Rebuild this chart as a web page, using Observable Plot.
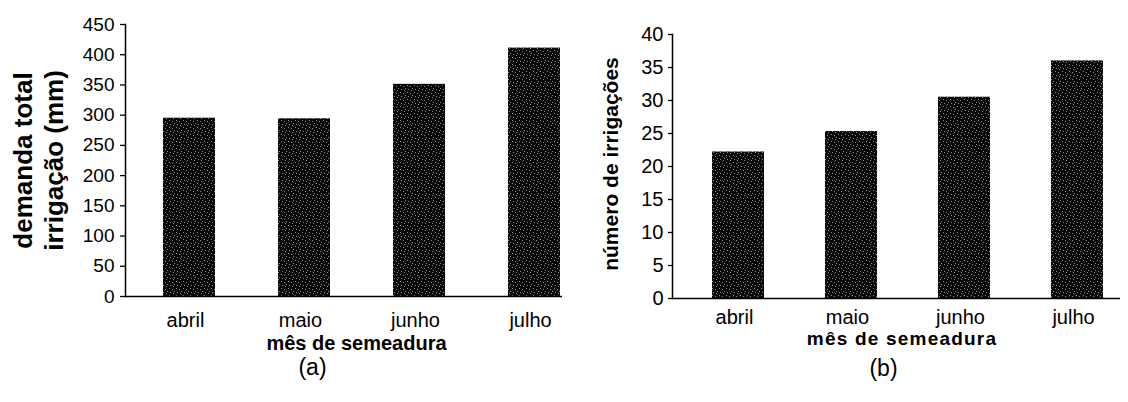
<!DOCTYPE html>
<html>
<head>
<meta charset="utf-8">
<script src="https://cdn.jsdelivr.net/npm/d3@7"></script>
<script src="https://cdn.jsdelivr.net/npm/@observablehq/plot@0.6"></script>
<style>
  html, body { margin: 0; padding: 0; background: #fff; }
  #wrap { position: relative; width: 1128px; height: 402px; overflow: hidden; background: #fff; }
  .panel { position: absolute; top: 0; width: 564px; height: 402px; overflow: hidden; }
  .panel svg { overflow: hidden; }
</style>
</head>
<body>
<div id="wrap">
  <div class="panel" id="pa" style="left:0"></div>
  <div class="panel" id="pb" style="left:564px"></div>
</div>
<script>
// ---- data ----
const months = ["abril", "maio", "junho", "julho"];
const demandaTotal = [295, 294, 351, 411];      // mm
const numeroIrrigacoes = [22.2, 25.3, 30.5, 36.0];
const yTicksA = [0, 50, 100, 150, 200, 250, 300, 350, 400, 450];
const yTicksB = [0, 5, 10, 15, 20, 25, 30, 35, 40];
const yTitleA = "demanda total\nirrigação (mm)";
const yTitleB = "número de irrigações";
const xTitle = "mês de semeadura";
const panelA = "(a)";
const panelB = "(b)";

const dataA = months.map((m, i) => ({m, v: demandaTotal[i]}));
const dataB = months.map((m, i) => ({m, v: numeroIrrigacoes[i]}));

const font = "'Liberation Sans', Arial, Helvetica, sans-serif";

function addPattern(svg, id) {
  const defs = d3.select(svg).insert("defs", ":first-child");
  const p = defs.append("pattern").attr("id", id)
    .attr("width", 7).attr("height", 7).attr("patternUnits", "userSpaceOnUse");
  p.append("rect").attr("width", 7).attr("height", 7).attr("fill", "#080808");
  [[1, 1], [4, 2], [2, 5], [6, 4], [5, 6]].forEach(([x, y]) =>
    p.append("rect").attr("x", x).attr("y", y).attr("width", 1).attr("height", 1).attr("fill", "#8a8a8a"));
}

const chartA = Plot.plot({
  width: 564, height: 402,
  marginLeft: 125, marginRight: 2, marginTop: 24, marginBottom: 106,
  style: {fontFamily: font, color: "#000", background: "transparent"},
  x: {domain: months, range: [131, 591.5], paddingInner: 0.55, paddingOuter: 0.275, align: 0.5},
  y: {domain: [0, 450]},
  marks: [
    Plot.barY(dataA, {x: "m", y: "v", fill: "url(#spA)"}),
    Plot.ruleY([0], {stroke: "#000", strokeWidth: 1.5}),
    Plot.frame({anchor: "left", stroke: "#000", strokeWidth: 1.5}),
    Plot.axisY({ticks: yTicksA, tickSize: 5, tickPadding: 6, fontSize: 19, label: null, stroke: "#000", strokeWidth: 1.3}),
    Plot.axisX({tickSize: 0, tickPadding: 16, fontSize: 20, dx: -4, label: null}),
    Plot.text([yTitleA], {text: d => d, frameAnchor: "left", rotate: -90, dx: -63, lineAnchor: "bottom",
      lineHeight: 1.17, fontSize: 26, fontWeight: "bold", textAnchor: "middle"}),
    Plot.text([xTitle], {text: d => d, frameAnchor: "bottom", dx: 12.5, dy: 53, lineAnchor: "bottom",
      fontSize: 20, fontWeight: "bold", textAnchor: "middle"}),
    Plot.text([panelA], {text: d => d, frameAnchor: "bottom", dx: -31.5, dy: 78, lineAnchor: "bottom",
      fontSize: 23, textAnchor: "middle"})
  ]
});
addPattern(chartA, "spA");
document.getElementById("pa").appendChild(chartA);

const chartB = Plot.plot({
  width: 564, height: 402,
  marginLeft: 108, marginRight: 8, marginTop: 34, marginBottom: 104,
  style: {fontFamily: font, color: "#000", background: "transparent"},
  x: {domain: months, range: [116.2, 571], paddingInner: 0.543, paddingOuter: 0.2715, align: 0.5},
  y: {domain: [0, 40]},
  marks: [
    Plot.barY(dataB, {x: "m", y: "v", fill: "url(#spB)"}),
    Plot.ruleY([0], {stroke: "#000", strokeWidth: 1.5}),
    Plot.frame({anchor: "left", stroke: "#000", strokeWidth: 1.5}),
    Plot.axisY({ticks: yTicksB, tickSize: 4, tickPadding: 5, fontSize: 20, label: null, stroke: "#000", strokeWidth: 1.3}),
    Plot.axisX({tickSize: 0, tickPadding: 11, fontSize: 20, dx: -4, label: null}),
    Plot.text([yTitleB], {text: d => d, frameAnchor: "left", rotate: -90, dx: -55, dy: -2.5, lineAnchor: "bottom",
      fontSize: 21, fontWeight: "bold", textAnchor: "middle"}),
    Plot.text([xTitle], {text: d => d, frameAnchor: "bottom", dx: 5.5, dy: 46, lineAnchor: "bottom",
      fontSize: 19, fontWeight: "bold", textAnchor: "middle"}),
    Plot.text([panelB], {text: d => d, frameAnchor: "bottom", dx: -13, dy: 77, lineAnchor: "bottom",
      fontSize: 23, textAnchor: "middle"})
  ]
});
addPattern(chartB, "spB");
d3.select(chartB).selectAll("text").filter(function () { return this.textContent === xTitle; })
  .style("letter-spacing", "1.2px");
document.getElementById("pb").appendChild(chartB);
</script>
</body>
</html>
